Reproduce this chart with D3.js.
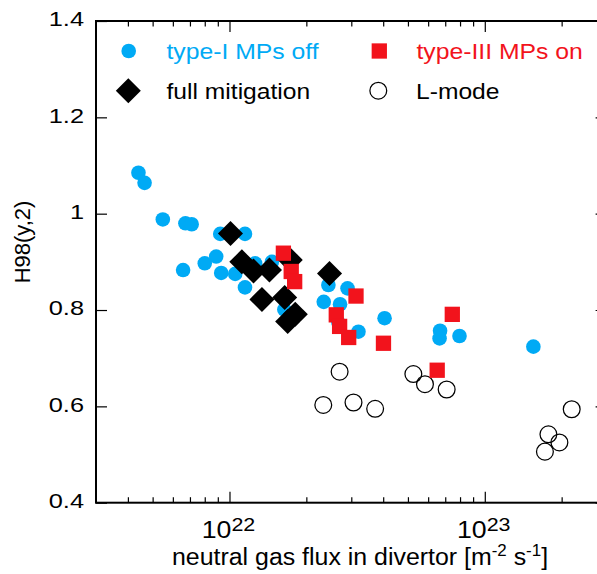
<!DOCTYPE html>
<html>
<head>
<meta charset="utf-8">
<script src="https://cdn.jsdelivr.net/npm/d3@7"></script>
<style>
  html, body { margin: 0; padding: 0; background: #fff; overflow: hidden; }
  svg { display: block; font-family: "Liberation Sans", Arial, Helvetica, sans-serif; }
</style>
</head>
<body>
<svg id="chart" width="597" height="574"></svg>
<script>
// Confinement factor H98(y,2) against divertor neutral gas flux, [flux (m^-2 s^-1), H98]
const typeIOff = [
  [4.40e21, 1.085], [4.65e21, 1.064], [5.48e21, 0.988], [6.72e21, 0.980],
  [7.11e21, 0.978], [9.20e21, 0.958], [1.15e22, 0.958], [8.87e21, 0.911],
  [8.00e21, 0.897], [6.58e21, 0.883], [9.28e21, 0.877], [1.053e22, 0.875],
  [1.26e22, 0.897], [1.466e22, 0.900], [1.15e22, 0.847], [1.64e22, 0.801],
  [2.44e22, 0.852], [2.90e22, 0.845], [2.34e22, 0.817], [2.71e22, 0.812],
  [2.67e22, 0.774], [3.20e22, 0.755], [4.05e22, 0.783], [6.68e22, 0.757],
  [6.65e22, 0.741], [7.96e22, 0.746], [1.55e23, 0.724]
];
const typeIIIOn = [
  [1.626e22, 0.918], [1.745e22, 0.880], [1.80e22, 0.859], [3.13e22, 0.829],
  [2.62e22, 0.790], [2.70e22, 0.766], [2.93e22, 0.743], [4.01e22, 0.731],
  [7.46e22, 0.791], [6.51e22, 0.675]
];
const fullMitigation = [
  [1.009e22, 0.959], [1.118e22, 0.900], [1.242e22, 0.881], [1.434e22, 0.883],
  [1.73e22, 0.904], [1.34e22, 0.822], [1.645e22, 0.826], [1.81e22, 0.791],
  [1.69e22, 0.776], [2.465e22, 0.876]
];
const lMode = [
  [2.70e22, 0.672], [2.33e22, 0.603], [3.06e22, 0.608], [3.72e22, 0.595],
  [5.25e22, 0.667], [5.83e22, 0.646], [7.09e22, 0.635], [2.19e23, 0.594],
  [1.775e23, 0.542], [1.96e23, 0.525], [1.72e23, 0.506]
];

const yTicks = [0.4, 0.6, 0.8, 1.0, 1.2, 1.4];
const yTickLabels = ["0.4", "0.6", "0.8", "1", "1.2", "1.4"];
const xMajorTicks = [1e22, 1e23];
const xMajorExponents = ["22", "23"];
const xMinorTicks = [4e21, 5e21, 6e21, 7e21, 8e21, 9e21,
  2e22, 3e22, 4e22, 5e22, 6e22, 7e22, 8e22, 9e22, 2e23, 3e23];

const BLUE = "#00aaf5";
const RED = "#f2131c";

const svg = d3.select("#chart");
const box = { left: 96, right: 606.6, top: 21, bottom: 502.7 };

const x = d3.scaleLog().domain([3e21, 3e23]).range([box.left, box.right]);
const y = d3.scaleLinear().domain([0.4, 1.4]).range([box.bottom, box.top]);

// text placed at an anchor, widened horizontally by factor k
function wideText(parent, tx, ty, k, str, opts = {}) {
  const g = parent.append("g").attr("transform", `translate(${tx},${ty})${opts.rotate ? ` rotate(${opts.rotate})` : ""}`);
  const t = g.append("text")
    .attr("x", 0).attr("y", 0)
    .attr("font-size", opts.size || 20)
    .attr("text-anchor", opts.anchor || "start")
    .attr("fill", opts.fill || "#000")
    .attr("transform", `scale(${k},1)`);
  if (str !== null) t.text(str);
  return t;
}

// ---- ticks (all pointing into the frame) ----
const tickStyle = g => {
  g.select(".domain").remove();
  g.selectAll(".tick line").attr("stroke", "#000").attr("stroke-width", 1.2);
  g.selectAll(".tick text").remove();
};

svg.append("g").attr("transform", `translate(0,${box.bottom})`)
  .call(d3.axisBottom(x).tickValues(xMajorTicks).tickSize(-11).tickFormat("")).call(tickStyle);
svg.append("g").attr("transform", `translate(0,${box.bottom})`)
  .call(d3.axisBottom(x).tickValues(xMinorTicks).tickSize(-5.5).tickFormat("")).call(tickStyle);
svg.append("g").attr("transform", `translate(0,${box.top})`)
  .call(d3.axisTop(x).tickValues(xMajorTicks).tickSize(-11).tickFormat("")).call(tickStyle);
svg.append("g").attr("transform", `translate(0,${box.top})`)
  .call(d3.axisTop(x).tickValues(xMinorTicks).tickSize(-5.5).tickFormat("")).call(tickStyle);
svg.append("g").attr("transform", `translate(${box.left},0)`)
  .call(d3.axisLeft(y).tickValues(yTicks).tickSize(-11).tickFormat("")).call(tickStyle);
svg.append("g").attr("transform", `translate(${box.right},0)`)
  .call(d3.axisRight(y).tickValues(yTicks).tickSize(-11).tickFormat("")).call(tickStyle);

// frame
svg.append("rect")
  .attr("x", box.left).attr("y", box.top)
  .attr("width", box.right - box.left).attr("height", box.bottom - box.top)
  .attr("fill", "none").attr("stroke", "#000").attr("stroke-width", 2);

// ---- tick labels ----
yTicks.forEach((v, i) => {
  wideText(svg, 84, y(v) + 5.2, 1.3, yTickLabels[i], { size: 19.5, anchor: "end" });
});
xMajorTicks.forEach((v, i) => {
  const t = wideText(svg, x(v) - 1, 538, 1.16, null, { size: 23, anchor: "middle" });
  t.append("tspan").text("10");
  t.append("tspan").attr("font-size", 18.5).attr("dy", -7).text(xMajorExponents[i]);
});

// ---- axis titles ----
{
  const t = wideText(svg, 172, 565, 1.06, null, { size: 23.5 });
  t.append("tspan").text("neutral gas flux in divertor [m");
  t.append("tspan").attr("font-size", 16).attr("dy", -9).text("-2");
  t.append("tspan").attr("dy", 9).text(" s");
  t.append("tspan").attr("font-size", 16).attr("dy", -9).text("-1");
  t.append("tspan").attr("dy", 9).text("]");
}
wideText(svg, 30, 242, 1.0, "H98(y,2)", { size: 22, anchor: "middle", rotate: -90 });

// ---- markers ----
const diamondPath = d3.symbol().type(d3.symbolSquare).size(17.7 * 17.7)();
const squarePath = d3.symbol().type(d3.symbolSquare).size(15.3 * 15.3)();

const marks = svg.append("g");

marks.append("g").selectAll("circle").data(lMode).join("circle")
  .attr("cx", d => x(d[0])).attr("cy", d => y(d[1])).attr("r", 8.4)
  .attr("fill", "none").attr("stroke", "#000").attr("stroke-width", 1.25);

marks.append("g").selectAll("circle").data(typeIOff).join("circle")
  .attr("cx", d => x(d[0])).attr("cy", d => y(d[1])).attr("r", 7.3)
  .attr("fill", BLUE);

marks.append("g").selectAll("path").data(fullMitigation).join("path")
  .attr("d", diamondPath)
  .attr("transform", d => `translate(${x(d[0])},${y(d[1])}) rotate(45)`)
  .attr("fill", "#000");

marks.append("g").selectAll("path").data(typeIIIOn).join("path")
  .attr("d", squarePath)
  .attr("transform", d => `translate(${x(d[0])},${y(d[1])})`)
  .attr("fill", RED);

// ---- legend ----
const legend = svg.append("g");
legend.append("circle").attr("cx", 128.7).attr("cy", 51).attr("r", 7.3).attr("fill", BLUE);
wideText(legend, 166.5, 58.5, 1.125, "type-I MPs off", { size: 22, fill: BLUE });

legend.append("path").attr("d", squarePath).attr("transform", "translate(379.3,51)").attr("fill", RED);
wideText(legend, 416.5, 58.5, 1.125, "type-III MPs on", { size: 22, fill: RED });

legend.append("path").attr("d", diamondPath).attr("transform", "translate(128.3,90.7) rotate(45)").attr("fill", "#000");
wideText(legend, 166.5, 98.5, 1.12, "full mitigation", { size: 22 });

legend.append("circle").attr("cx", 378.3).attr("cy", 90.7).attr("r", 8.4)
  .attr("fill", "none").attr("stroke", "#000").attr("stroke-width", 1.25);
wideText(legend, 416, 98.5, 1.12, "L-mode", { size: 22 });
</script>
</body>
</html>
